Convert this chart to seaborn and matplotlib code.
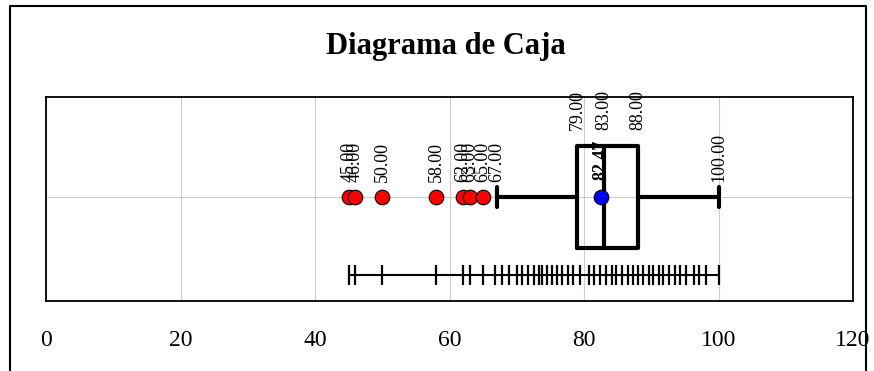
import matplotlib
matplotlib.use("Agg")
import matplotlib.pyplot as plt
import seaborn as sns
import pandas as pd
from matplotlib.lines import Line2D

# ==========================================
# DATA
# ==========================================
TITLE = "Diagrama de Caja"

# whisker low, Q1, median, Q3, whisker high
BOX_SUMMARY = [67, 79, 83, 88, 100]
MEAN_VALUE = 82.47
OUTLIERS = [45, 46, 50, 58, 62, 63, 65]

# positions of the rug ticks under the box
RUG_VALUES = [45, 46, 50, 58, 62, 63, 65,
              66.8, 67.8, 68.8, 70.0, 70.8, 71.6, 72.5, 73.3,
              73.8, 74.5, 75.3, 76.0, 76.8, 77.6, 78.4, 79.4,
              80.8, 81.5, 82.4, 83.3, 84.1, 84.8, 85.7, 86.6,
              87.3, 88.1, 88.8, 89.6, 90.3, 91.1, 91.8, 92.6,
              93.6, 94.3, 95.1, 96.3, 97.1, 98.1, 100]

X_TICKS = [0, 20, 40, 60, 80, 100, 120]

OUTPUT_IMAGE = "out.png"

# ==========================================

W, H = 874, 371
BOX_Y = 0.0
RUG_Y = -0.78


def main():
    sns.set_theme(style="whitegrid")
    plt.rcParams["font.family"] = ["Liberation Serif", "DejaVu Serif"]
    plt.rcParams["text.color"] = "black"
    plt.rcParams["xtick.color"] = "black"

    fig = plt.figure(figsize=(W / 100, H / 100), dpi=100)
    ax = fig.add_axes([46 / W, 1 - 301 / H, (853 - 46) / W, (301 - 97) / H])

    # box (seaborn computes quartiles/whiskers from the five-number summary)
    box_df = pd.DataFrame({"value": BOX_SUMMARY})
    sns.boxplot(data=box_df, x="value", orient="h", width=1.02, fill=False,
                color="black", linewidth=3, showfliers=False,
                capwidths=0.2, ax=ax, zorder=4)

    # outliers and mean
    out_df = pd.DataFrame({"x": OUTLIERS, "y": BOX_Y})
    sns.scatterplot(data=out_df, x="x", y="y", color="#ff0000", s=110,
                    edgecolor="black", linewidth=0.8, ax=ax, zorder=5)
    mean_df = pd.DataFrame({"x": [MEAN_VALUE], "y": [BOX_Y]})
    sns.scatterplot(data=mean_df, x="x", y="y", color="#0000ff", s=110,
                    edgecolor="black", linewidth=0.8, ax=ax, zorder=6)

    # rug of all data values
    rug_df = pd.DataFrame({"x": RUG_VALUES, "y": RUG_Y})
    ax.plot([min(RUG_VALUES), max(RUG_VALUES)], [RUG_Y, RUG_Y],
            color="black", lw=1.5, zorder=3)
    sns.scatterplot(data=rug_df, x="x", y="y", marker="|", color="black",
                    s=210, linewidth=1.6, ax=ax, zorder=3)

    # value labels (overlaps for close values are as in the source chart)
    lbl = dict(rotation=90, ha="center", va="bottom", fontsize=13,
               color="black")
    for v in OUTLIERS + [BOX_SUMMARY[0], BOX_SUMMARY[4]]:
        ax.text(v, BOX_Y + 0.15, f"{v:.2f}", **lbl, zorder=7)
    for v in BOX_SUMMARY[1:4]:
        ax.text(v, BOX_Y + 0.67, f"{v:.2f}", **lbl, zorder=7)
    ax.text(MEAN_VALUE, BOX_Y + 0.17, f"{MEAN_VALUE:.2f}",
            fontweight="bold", zorder=2, **lbl)

    # axes styling
    ax.set_xlim(X_TICKS[0], X_TICKS[-1])
    ax.set_ylim(-1.04, 1.0)
    ax.set_xticks(X_TICKS)
    ax.set_yticks([BOX_Y])
    ax.set_yticklabels([])
    ax.set_xlabel("")
    ax.set_ylabel("")
    ax.tick_params(axis="x", length=0, pad=21, labelsize=17,
                   labelcolor="black")
    ax.tick_params(axis="y", length=0)
    ax.grid(True, color="#cccccc", lw=0.8)
    for s in ax.spines.values():
        s.set_color("black")
        s.set_linewidth(1.3)

    fig.text(445.5 / W, 1 - 54 / H, TITLE, ha="center", va="baseline",
             fontsize=22, fontweight="bold", color="black")

    # outer chart border (bottom edge runs off the image)
    xs = [10 / W, 10 / W, 866 / W, 866 / W]
    ys = [0, 1 - 6 / H, 1 - 6 / H, 0]
    fig.add_artist(Line2D(xs, ys, color="black", lw=1.5,
                          transform=fig.transFigure))

    fig.savefig(OUTPUT_IMAGE, dpi=100)


if __name__ == "__main__":
    main()
